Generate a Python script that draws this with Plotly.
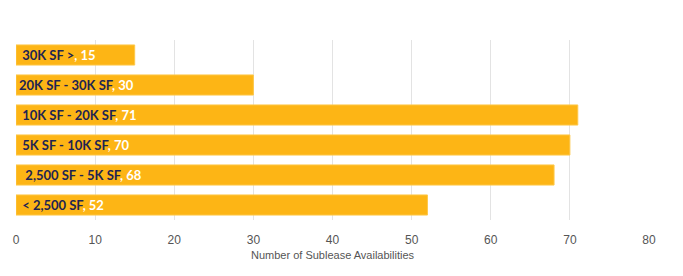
import plotly.graph_objects as go

categories = ["< 2,500 SF", "2,500 SF - 5K SF", "5K SF - 10K SF", "10K SF - 20K SF", "20K SF - 30K SF", "30K SF >"]
values = [52, 68, 70, 71, 30, 15]
label_prefix = [" ", "  ", " ", " ", "", " "]

texts = [f"{p}<span style='color:#1e2452'>{c}</span><span style='color:#ffffff'>, {v}</span>"
         for p, c, v in zip(label_prefix, categories, values)]

fig = go.Figure(go.Bar(
    x=values, y=categories, orientation="h",
    marker=dict(color="#FDB515", line=dict(color="#FDC84A", width=1)),
    text=texts, textposition="inside", insidetextanchor="start",
    textfont=dict(family="Lato", size=13, color="#1e2452", weight="bold"),
    cliponaxis=False, hoverinfo="skip",
))

fig.update_layout(
    width=683, height=276,
    margin=dict(l=16, r=34, t=40, b=56),
    paper_bgcolor="white", plot_bgcolor="white",
    bargap=0.33, showlegend=False,
    uniformtext=dict(minsize=13, mode="show"),
    xaxis=dict(range=[0, 80], dtick=10, showgrid=True, gridcolor="#e3e3e3", gridwidth=1,
               zeroline=False, showline=False, ticks="outside", ticklen=9, tickcolor="rgba(0,0,0,0)",
               tickfont=dict(family="Liberation Sans", size=12, color="#555555"),
               title=dict(text="Number of Sublease Availabilities", standoff=4,
                          font=dict(family="Liberation Sans", size=11, color="#555555"))),
    yaxis=dict(showticklabels=False, showgrid=False, zeroline=False, ticks=""),
)

fig.write_html("out.html")
